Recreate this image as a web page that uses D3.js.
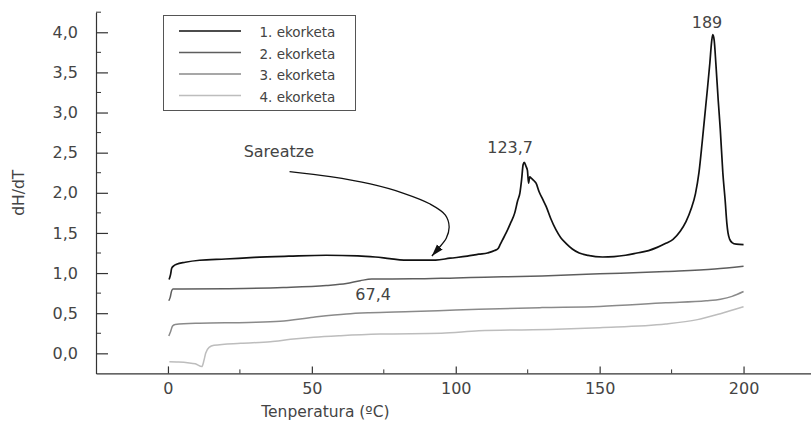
<!DOCTYPE html>
<html>
  <head>
    <meta charset="utf-8">
    <title>dH/dT ekorketak</title>
    <script src="https://d3js.org/d3.v7.min.js"></script>
    <style>
      body { margin: 0; background: #fff; }
      svg text { font-family: "DejaVu Sans", sans-serif; fill: #444; }
    </style>
  </head>
  <body>
    <div id="chart"></div>
    <script>
      // series data: [temperature, dH/dT]
      var ekorketa1 = [
        [0.4, 0.92], [0.9, 0.98], [1.3, 1.06], [2.0, 1.09], [3.0, 1.11], [6, 1.135], [11, 1.16],
        [20, 1.175], [30, 1.195], [42, 1.21], [55, 1.222], [66, 1.215], [72, 1.2], [77, 1.18],
        [82, 1.162], [88, 1.16], [93, 1.162], [98, 1.185], [104, 1.21], [108, 1.235], [111, 1.25],
        [113.5, 1.28], [114.8, 1.31], [115.5, 1.36], [116.2, 1.41], [117.5, 1.5], [119, 1.62],
        [120.5, 1.75], [121.5, 1.9], [122.3, 2.0], [122.9, 2.17], [123.4, 2.35], [123.8, 2.38],
        [124.4, 2.33], [124.9, 2.28], [125.3, 2.12], [125.7, 2.2], [126.3, 2.18], [127.2, 2.15],
        [127.9, 2.12], [129, 2.01], [130.2, 1.92], [131.4, 1.83], [133, 1.68], [134.8, 1.54],
        [136.5, 1.44], [138.3, 1.37], [140.5, 1.3], [142.9, 1.25], [146, 1.22], [151, 1.2],
        [155, 1.205], [159, 1.222], [163, 1.25], [167, 1.28], [170, 1.32], [173, 1.37],
        [175.5, 1.42], [178, 1.52], [180, 1.64], [181.8, 1.8], [183.3, 1.99], [184.5, 2.25],
        [185.6, 2.62], [186.5, 2.95], [187.3, 3.24], [188.3, 3.62], [188.9, 3.88], [189.3, 3.97],
        [189.8, 3.9], [190.4, 3.6], [191.2, 3.15], [191.9, 2.8], [192.8, 2.25], [193.6, 1.91],
        [194.2, 1.62], [194.6, 1.5], [195.2, 1.42], [196, 1.38], [197.5, 1.36], [200, 1.355]
      ];
      var ekorketa2 = [
        [0.3, 0.655], [0.8, 0.7], [1.3, 0.78], [1.8, 0.8], [5, 0.8], [20, 0.805], [40, 0.82],
        [55, 0.845], [62, 0.87], [66.8, 0.905], [70.8, 0.926], [85, 0.928], [100, 0.94],
        [110, 0.948], [130, 0.965], [150, 0.99], [173, 1.02], [190, 1.05], [200, 1.085]
      ];
      var ekorketa3 = [
        [0.3, 0.216], [0.9, 0.27], [1.6, 0.34], [2.5, 0.36], [11, 0.375], [28, 0.385], [39, 0.4],
        [50.6, 0.45], [62, 0.49], [70, 0.505], [85, 0.52], [100, 0.54], [108, 0.55], [130, 0.57],
        [150, 0.585], [173, 0.63], [187, 0.655], [192, 0.675], [196, 0.71], [200, 0.77]
      ];
      var ekorketa4 = [
        [0.5, -0.104], [3, -0.108], [6.8, -0.117], [9.5, -0.13], [11.8, -0.165], [12.5, -0.09],
        [13.1, 0.0], [14.3, 0.075], [16, 0.1], [25.3, 0.125], [35.6, 0.145], [42.6, 0.174],
        [50.6, 0.2], [60, 0.22], [73.7, 0.24], [95, 0.25], [108, 0.28], [135, 0.3], [150, 0.32],
        [173, 0.365], [184, 0.42], [192.5, 0.5], [200, 0.58]
      ];
      var seriesNames = ["1. ekorketa", "2. ekorketa", "3. ekorketa", "4. ekorketa"];
      var seriesColors = ["#111111", "#5e5e5e", "#8a8a8a", "#bdbdbd"];

      // ticks
      var xMajorTicks = [0, 50, 100, 150, 200];
      var xMinorTicks = [25, 75, 125, 175, 225];
      var yMajorTicks = [0, 0.5, 1, 1.5, 2, 2.5, 3, 3.5, 4];
      var yMinorTicks = [0.25, 0.75, 1.25, 1.75, 2.25, 2.75, 3.25, 3.75, 4.25];

      // annotations, in data units
      var peakLabels = [
        { text: "189", x: 187.3, y: 4.054 },
        { text: "123,7", x: 118.9, y: 2.496 },
        { text: "67,4", x: 71.3, y: 0.664 }
      ];
      var arrowLabel = { text: "Sareatze", x: 26.3, y: 2.446 };
      var arrowPath = [
        [42.25, 2.263], [56.4, 2.201], [70.3, 2.11], [81.9, 1.994], [91.1, 1.86], [96.4, 1.723],
        [97.7, 1.578], [96.7, 1.433], [94.0, 1.308], [91.7, 1.212]
      ];

      var width = 811, height = 424;
      var svg = d3.select("#chart").append("svg")
        .attr("width", width)
        .attr("height", height);

      var x = d3.scaleLinear().domain([-25, 225]).range([96, 815.5]);
      var y = d3.scaleLinear().domain([-0.25, 4.25]).range([373.4, 12.2]);

      var comma = d3.formatLocale({ decimal: ",", thousands: ".", grouping: [3], currency: ["", ""] });

      // x axis (ticks point inward)
      var xAxis = svg.append("g")
        .attr("transform", "translate(0," + y(-0.25) + ")")
        .call(d3.axisBottom(x).tickValues(xMajorTicks).tickSizeInner(-7).tickSizeOuter(0).tickPadding(9).tickFormat(d3.format("d")));
      xAxis.selectAll(".minor")
        .data(xMinorTicks)
        .enter().append("line")
          .attr("class", "minor")
          .attr("x1", function(d) { return x(d); })
          .attr("x2", function(d) { return x(d); })
          .attr("y1", 0)
          .attr("y2", -4)
          .attr("stroke", "#333");

      // y axis
      var yAxis = svg.append("g")
        .attr("transform", "translate(" + x(-25) + ",0)")
        .call(d3.axisLeft(y).tickValues(yMajorTicks).tickSizeInner(-12).tickSizeOuter(0).tickPadding(18).tickFormat(comma.format(".1f")));
      yAxis.selectAll(".minor")
        .data(yMinorTicks)
        .enter().append("line")
          .attr("class", "minor")
          .attr("y1", function(d) { return y(d); })
          .attr("y2", function(d) { return y(d); })
          .attr("x1", 0)
          .attr("x2", 5)
          .attr("stroke", "#333");

      svg.selectAll(".domain, .tick line").attr("stroke", "#333").attr("stroke-width", 1.2);
      svg.selectAll(".tick text").style("font-size", "16px").attr("fill", "#444");

      // axis titles
      svg.append("text")
        .attr("x", x(54.7))
        .attr("y", 417)
        .attr("text-anchor", "middle")
        .style("font-size", "15.5px")
        .text("Tenperatura (ºC)");
      svg.append("text")
        .attr("transform", "translate(24," + (y(2)) + ") rotate(-90)")
        .attr("text-anchor", "middle")
        .style("font-size", "15.5px")
        .text("dH/dT");

      // curves
      var line = d3.line()
        .x(function(d) { return x(d[0]); })
        .y(function(d) { return y(d[1]); })
        .curve(d3.curveMonotoneX);
      var allSeries = [ekorketa1, ekorketa2, ekorketa3, ekorketa4];
      svg.selectAll(".curve")
        .data(allSeries.slice().reverse())
        .enter().append("path")
          .attr("class", "curve")
          .attr("fill", "none")
          .attr("stroke", function(d, i) { return seriesColors[3 - i]; })
          .attr("stroke-width", function(d, i) { return i == 3 ? 1.7 : 1.5; })
          .attr("d", line);

      // labels on the peaks
      svg.selectAll(".peak")
        .data(peakLabels)
        .enter().append("text")
          .attr("class", "peak")
          .attr("x", function(d) { return x(d.x); })
          .attr("y", function(d) { return y(d.y); })
          .attr("text-anchor", "middle")
          .style("font-size", "16px")
          .text(function(d) { return d.text; });

      // arrow pointing at the dip
      svg.append("defs").append("marker")
        .attr("id", "head")
        .attr("markerUnits", "userSpaceOnUse")
        .attr("viewBox", "0 -5 12 10")
        .attr("refX", 12)
        .attr("refY", 0)
        .attr("markerWidth", 12)
        .attr("markerHeight", 10)
        .attr("orient", "auto")
        .append("path")
          .attr("d", "M0,-3.8L12,0L0,3.8Z")
          .attr("fill", "#111");
      svg.append("path")
        .datum(arrowPath)
        .attr("fill", "none")
        .attr("stroke", "#111")
        .attr("stroke-width", 1.3)
        .attr("marker-end", "url(#head)")
        .attr("d", d3.line()
          .x(function(d) { return x(d[0]); })
          .y(function(d) { return y(d[1]); })
          .curve(d3.curveCatmullRom));
      svg.append("text")
        .attr("x", x(arrowLabel.x))
        .attr("y", y(arrowLabel.y))
        .style("font-size", "16px")
        .text(arrowLabel.text);

      // legend
      var legend = svg.append("g");
      legend.append("rect")
        .attr("x", 163.5)
        .attr("y", 15.5)
        .attr("width", 192)
        .attr("height", 95)
        .attr("fill", "#fff")
        .attr("stroke", "#555")
        .attr("stroke-width", 1);
      var rows = legend.selectAll(".row")
        .data(seriesNames)
        .enter().append("g")
          .attr("class", "row")
          .attr("transform", function(d, i) { return "translate(0," + (31 + i * 21.5) + ")"; });
      rows.append("line")
        .attr("x1", 179)
        .attr("x2", 241)
        .attr("stroke", function(d, i) { return seriesColors[i]; })
        .attr("stroke-width", function(d, i) { return i == 0 ? 1.7 : 1.5; });
      rows.append("text")
        .attr("x", 259.5)
        .attr("y", 6)
        .style("font-size", "13.5px")
        .text(function(d) { return d; });
    </script>
  </body>
</html>
